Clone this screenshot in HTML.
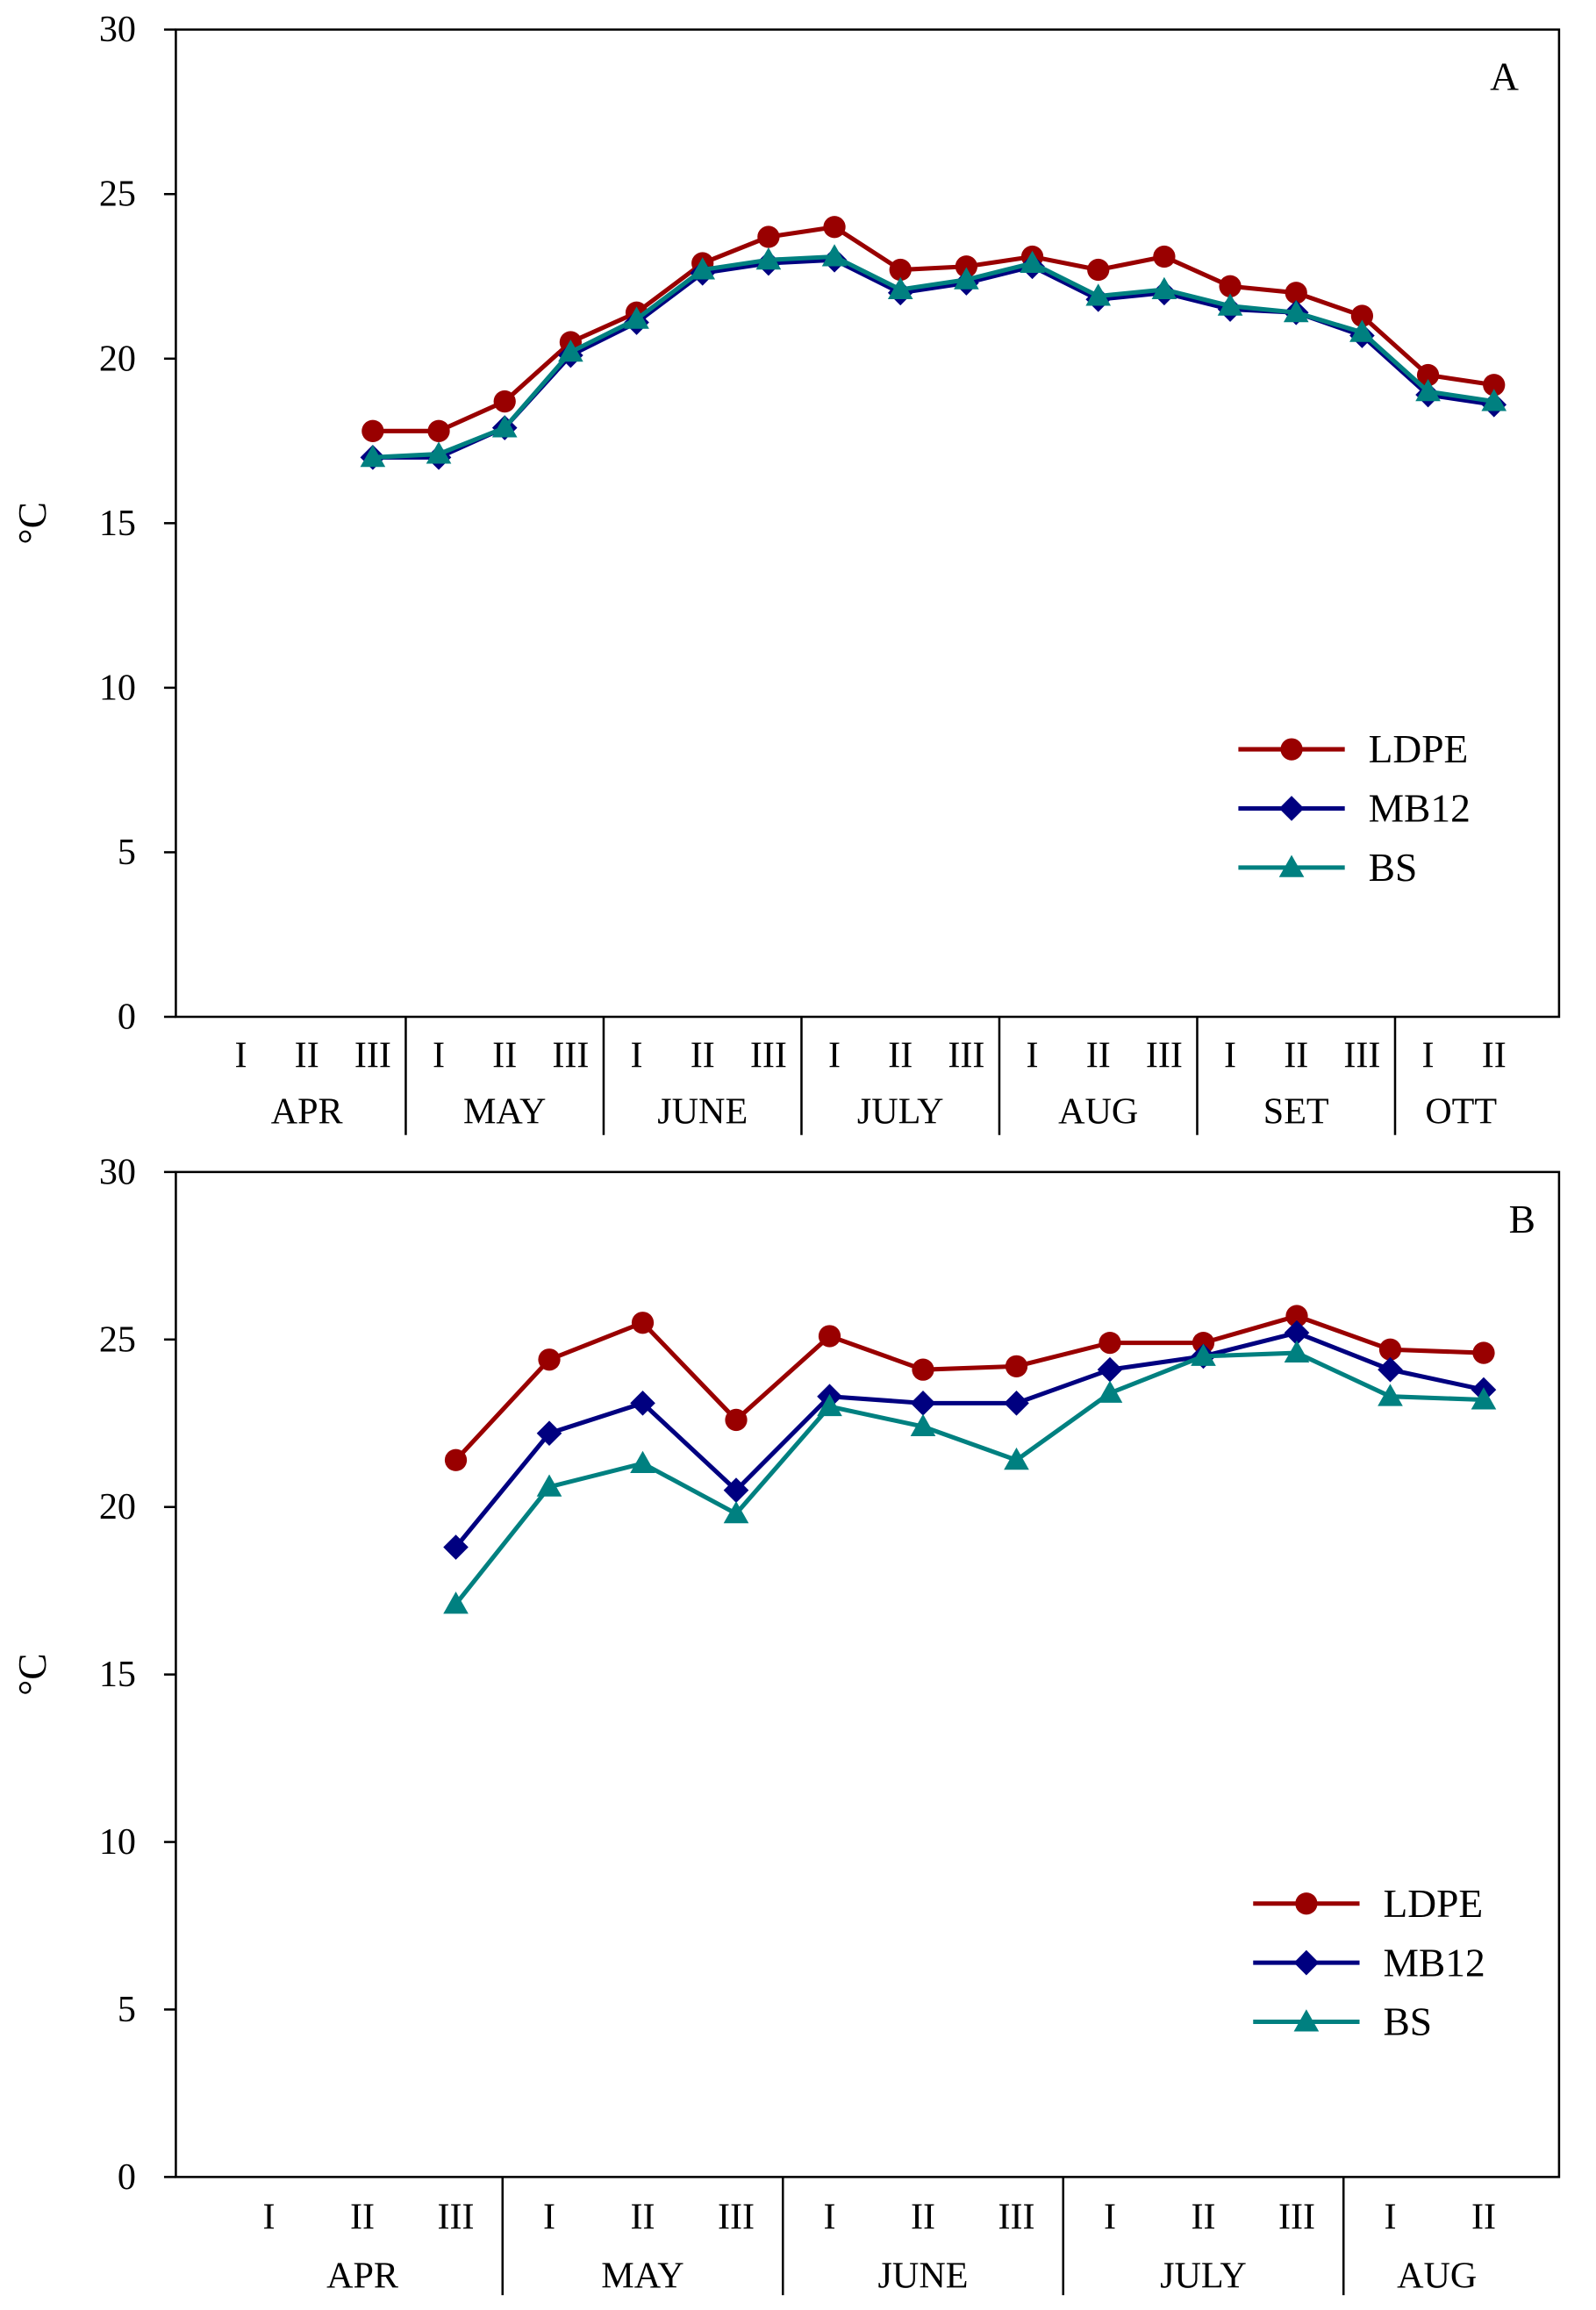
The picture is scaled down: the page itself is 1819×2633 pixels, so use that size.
<!DOCTYPE html>
<html><head><meta charset="utf-8"><style>
html,body{margin:0;padding:0;background:#fff}
svg{display:block}
text{font-family:"Liberation Serif",serif;fill:#000}
</style></head><body>
<svg id="svg" width="1819" height="2633" viewBox="0 0 1080 1563" preserveAspectRatio="none" xmlns="http://www.w3.org/2000/svg"></svg>
<script>
// Panel A data
const catsA = ["I","II","III","I","II","III","I","II","III","I","II","III","I","II","III","I","II","III","I","II"];
const monthsA = ["APR","MAY","JUNE","JULY","AUG","SET","OTT"];
const monthCountA = [3,3,3,3,3,3,2];
const ldpeA = [null,null,17.8,17.8,18.7,20.5,21.4,22.9,23.7,24.0,22.7,22.8,23.1,22.7,23.1,22.2,22.0,21.3,19.5,19.2];
const mb12A = [null,null,17.0,17.0,17.9,20.1,21.1,22.6,22.9,23.0,22.0,22.3,22.8,21.8,22.0,21.5,21.4,20.7,18.9,18.6];
const bsA   = [null,null,17.0,17.1,17.9,20.2,21.2,22.7,23.0,23.1,22.1,22.4,22.9,21.9,22.1,21.6,21.4,20.8,19.0,18.7];
// Panel B data
const catsB = ["I","II","III","I","II","III","I","II","III","I","II","III","I","II"];
const monthsB = ["APR","MAY","JUNE","JULY","AUG"];
const monthCountB = [3,3,3,3,2];
const ldpeB = [null,null,21.4,24.4,25.5,22.6,25.1,24.1,24.2,24.9,24.9,25.7,24.7,24.6];
const mb12B = [null,null,18.8,22.2,23.1,20.5,23.3,23.1,23.1,24.1,24.5,25.2,24.1,23.5];
const bsB   = [null,null,17.1,20.6,21.3,19.8,23.0,22.4,21.4,23.4,24.5,24.6,23.3,23.2];
const yTicks = [0,5,10,15,20,25,30];
const seriesNames = ["LDPE","MB12","BS"];

const NS="http://www.w3.org/2000/svg";
const svg=document.getElementById('svg');
function mk(tag,attrs,parent,txt){const e=document.createElementNS(NS,tag);for(const k in attrs)e.setAttribute(k,attrs[k]);if(txt!==undefined)e.textContent=txt;(parent||svg).appendChild(e);return e;}
const colors={LDPE:"#990000",MB12:"#000080",BS:"#008080"};

function marker(g,type,x,y,s){
  let m;
  if(type==="LDPE") m=mk('circle',{cx:x,cy:y,r:7.5*s,fill:colors.LDPE},g);
  else if(type==="MB12") m=mk('polygon',{points:`${x},${y-8.5*s} ${x+8.5*s},${y} ${x},${y+8.5*s} ${x-8.5*s},${y}`,fill:colors.MB12},g);
  else m=mk('polygon',{points:`${x},${y-8.5*s} ${x+8.5*s},${y+6.5*s} ${x-8.5*s},${y+6.5*s}`,fill:colors.BS},g);
  return m;
}

function panel(cfg){
  const g=mk('g',{});
  
  
  const yS=v=>cfg.bottom-(v/30)*(cfg.bottom-cfg.top);
  const xS=i=>cfg.x0+i*cfg.step;
  const frame=mk('rect',{x:cfg.left,y:cfg.top,width:cfg.right-cfg.left,height:cfg.bottom-cfg.top,fill:'none',stroke:'#000','stroke-width':1.5},g);
  
  
  yTicks.forEach(t=>{
    const y=yS(t);
    mk('line',{x1:cfg.left-8,x2:cfg.left,y1:y,y2:y,stroke:'#000','stroke-width':1.5},g);
    const tl=mk('text',{x:cfg.left-27,y:y+8,'text-anchor':'end','font-size':25},g,String(t));
    
    
  });
  cfg.cats.forEach((c,i)=>{
    const tl=mk('text',{x:xS(i),y:cfg.romanY,'text-anchor':'middle','font-size':25},g,c);
    
    
  });
  let start=0;
  cfg.months.forEach((m,k)=>{
    const n=cfg.counts[k];
    const cx=(xS(start)+xS(start+n-1))/2;
    const ml=mk('text',{x:cx,y:cfg.monthY,'text-anchor':'middle','font-size':25},g,m);
    
    
    start+=n;
    if(k<cfg.months.length-1){
      const sx=xS(start-0.5);
      const sl=mk('line',{x1:sx,x2:sx,y1:cfg.bottom,y2:cfg.sepBottom,stroke:'#000','stroke-width':1.5},g);
      
      
    }
  });
  cfg.series.forEach((vals,si)=>{
    const name=seriesNames[si];
    const sg=mk('g',{},g);
    
    
    const pts=[];
    vals.forEach((v,i)=>{if(v!==null)pts.push([xS(i),yS(v)]);});
    const pl=mk('polyline',{points:pts.map(p=>p.join(',')).join(' '),fill:'none',stroke:colors[name],'stroke-width':3},sg);
    
    
    pts.forEach(p=>{
      const m=marker(sg,name,p[0],p[1],1);
      
      
    });
  });
  const lg=mk('g',{},g);
  
  
  seriesNames.forEach((n,i)=>{
    const y=cfg.legY+i*40;
    const eg=mk('g',{},lg);
    
    
    mk('line',{x1:cfg.legX,x2:cfg.legX+72,y1:y,y2:y,stroke:colors[n],'stroke-width':3},eg);
    marker(eg,n,cfg.legX+36,y,1);
    mk('text',{x:cfg.legX+88,y:y+9,'font-size':27},eg,n);
  });
  const pl=mk('text',{x:cfg.labX,y:cfg.top+41,'text-anchor':'middle','font-size':27},g,cfg.label);
  
  
  const yl=mk('text',{x:0,y:0,'text-anchor':'middle','font-size':27,transform:`translate(31,${(cfg.top+cfg.bottom)/2}) rotate(-90)`},g,'°C');
  
  
}

panel({name:'panel-a',label:'A',labX:1018,left:119,right:1055,top:20,bottom:688,x0:163,step:44.63,
  cats:catsA,months:monthsA,counts:monthCountA,series:[ldpeA,mb12A,bsA],
  romanY:722,monthY:760,sepBottom:768,legX:838,legY:507});
panel({name:'panel-b',label:'B',labX:1030,left:119,right:1055,top:793,bottom:1473,x0:182,step:63.23,
  cats:catsB,months:monthsB,counts:monthCountB,series:[ldpeB,mb12B,bsB],
  romanY:1508,monthY:1548,sepBottom:1553,legX:848,legY:1288});
</script>
</body></html>
